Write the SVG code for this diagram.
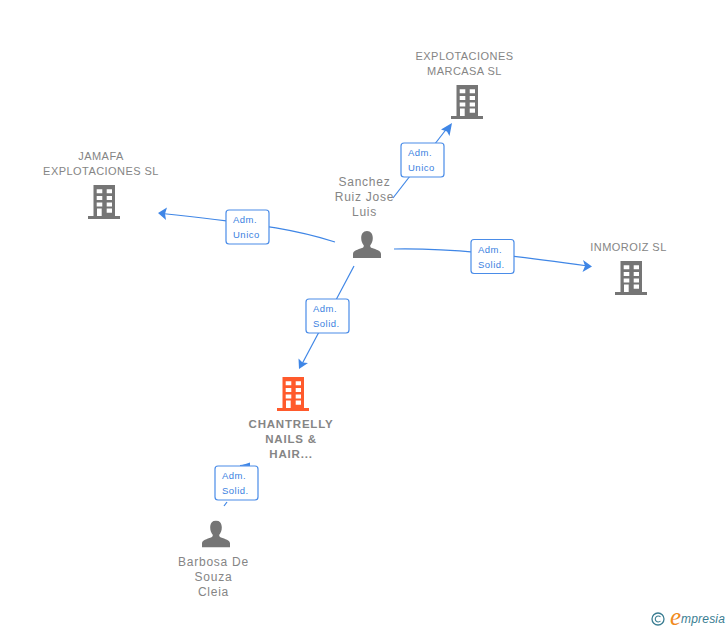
<svg xmlns="http://www.w3.org/2000/svg" width="728" height="630" viewBox="0 0 728 630">
<style>
.n{font-family:"Liberation Sans",Arial,sans-serif;font-size:11px;fill:#858585;text-anchor:middle;letter-spacing:.45px}
.p{font-size:12px;letter-spacing:.75px}
.b{font-weight:bold;font-size:11.5px;letter-spacing:.8px}
.l{font-family:"Liberation Sans",Arial,sans-serif;font-size:9.5px;fill:#3a7fdf;letter-spacing:.5px}
.c{fill:none;stroke:#3f86e6;stroke-width:1.2}
.lb{fill:#fff;stroke:#4a8ce8;stroke-width:1.2}
.h{fill:#3f86e6}
</style>
<defs>
<symbol id="bld" viewBox="0 0 32 34" width="32" height="34" overflow="visible">
<path fill-rule="evenodd" fill="currentColor" d="M5.500 0H27V31H32V34H0V31H5.500ZM8.700 4.300V8.300H14.300V4.300ZM18.700 4.300V8.300H24V4.300ZM8.700 11V15H14.300V11ZM18.700 11V15H24V11ZM8.700 17.500V21.500H14.300V17.500ZM18.700 17.500V21.500H24V17.500ZM9 23.500V31H13.700V23.500ZM18.700 23.500V27.700H24V23.500Z"/>
</symbol>
<symbol id="per" viewBox="0 0 28 27" width="28" height="27">
<path fill="#757575" d="M14 0C17.800 0 19.800 3 19.800 7C19.800 10 18.800 12.500 17.300 14.300C17 15.500 17.500 16.300 19 17C23 18.500 28 19.500 28 23V27H0V23C0 19.500 5 18.500 9 17C10.500 16.300 11 15.500 10.700 14.300C9.200 12.500 8.200 10 8.200 7C8.200 3 10.200 0 14 0Z"/>
</symbol>
</defs>
<g id="connectors">
<path class="c" d="M393 198L448 127"/>
<path class="h" d="M452 123L441 129.500L447 131.500L449.500 136Z"/>
<path class="c" d="M335 242C300 231 270 225 162 213.500"/>
<path class="h" d="M158 213L167 207.500L165 213.800L166 220Z"/>
<path class="c" d="M394 249C450 248 500 254 588 266"/>
<path class="h" d="M592 266.500L583 260L585 266L582.500 272Z"/>
<path class="c" d="M354 266L302 364"/>
<path class="h" d="M299 369L298.500 358.500L302.500 362.500L308 363Z"/>
<path class="c" d="M224 506L227 502"/>
<path class="c" d="M240 465.500L250 464.500"/>
<path class="h" d="M241 465.500L250 462.500V466Z"/>
</g>
<g id="label-marcasa"><rect class="lb" x="401" y="143" width="43" height="34" rx="3"/><text class="l" x="408" y="156">Adm.</text><text class="l" x="408" y="171">Unico</text></g>
<g id="label-jamafa"><rect class="lb" x="226" y="210" width="43" height="34" rx="3"/><text class="l" x="233" y="223">Adm.</text><text class="l" x="233" y="238">Unico</text></g>
<g id="label-inmoroiz"><rect class="lb" x="471" y="239.500" width="43" height="34" rx="3"/><text class="l" x="478" y="253">Adm.</text><text class="l" x="478" y="268">Solid.</text></g>
<g id="label-chantrelly"><rect class="lb" x="306" y="299" width="43" height="34" rx="3"/><text class="l" x="313" y="312">Adm.</text><text class="l" x="313" y="327">Solid.</text></g>
<g id="label-barbosa"><rect class="lb" x="215" y="466" width="43" height="34" rx="3"/><text class="l" x="222" y="479">Adm.</text><text class="l" x="222" y="494">Solid.</text></g>
<g id="node-marcasa" color="#757575"><use href="#bld" x="451" y="85"/><text class="n" x="464.500" y="60">EXPLOTACIONES</text><text class="n" x="464.500" y="75">MARCASA SL</text></g>
<g id="node-jamafa" color="#757575"><use href="#bld" x="88" y="185"/><text class="n" x="101" y="160">JAMAFA</text><text class="n" x="101" y="175">EXPLOTACIONES SL</text></g>
<g id="node-inmoroiz" color="#757575"><use href="#bld" x="615" y="261"/><text class="n" x="628.500" y="251">INMOROIZ SL</text></g>
<g id="node-chantrelly" color="#ff5a2c"><use href="#bld" x="277" y="377"/><text class="n b" x="291" y="427.500">CHANTRELLY</text><text class="n b" x="291" y="442.500">NAILS &amp;</text><text class="n b" x="291" y="457.500">HAIR...</text></g>
<g id="node-sanchez"><use href="#per" x="353" y="231"/><text class="n p" x="364.500" y="186">Sanchez</text><text class="n p" x="364.500" y="201">Ruiz Jose</text><text class="n p" x="364.500" y="216">Luis</text></g>
<g id="node-barbosa"><use href="#per" x="202" y="520.500"/><text class="n p" x="213.500" y="566">Barbosa De</text><text class="n p" x="213.500" y="581">Souza</text><text class="n p" x="213.500" y="596">Cleia</text></g>
<g id="watermark">
<circle cx="658" cy="619" r="6" fill="none" stroke="#3a7d92" stroke-width="1.3"/>
<path d="M660.500 617A3 3 0 1 0 660.500 621" fill="none" stroke="#3a7d92" stroke-width="1.1"/>
<text x="670" y="625" font-family="'Liberation Serif',serif" font-style="italic" font-size="25" fill="#f08a1d">e</text>
<text x="681" y="623" font-family="'Liberation Sans',Arial,sans-serif" font-style="italic" font-size="12" fill="#3a7d92" letter-spacing=".2">mpresia</text>
</g>
</svg>
